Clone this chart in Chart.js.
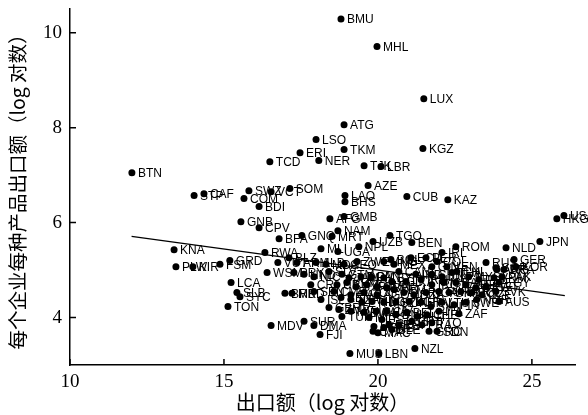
<!DOCTYPE html>
<html>
<head>
<meta charset="utf-8">
<script src="https://cdn.jsdelivr.net/npm/chart.js@4.4.1/dist/chart.umd.min.js"></script>
<style>
html, body { margin: 0; padding: 0; background: #fff; }
#wrap { width: 588px; height: 415px; }
</style>
</head>
<body>
<div id="wrap"><canvas id="grafico"></canvas></div>
<script>
// paises fuera del nucleo (etiquetas legibles)
let paisesA = ['BMU','MHL','LUX','ATG','LSO','TKM','KGZ','ERI','NER','TCD',
  'TJK','LBR','BTN','AZE','SOM','SWZ','VCT','STP','CAF','COM',
  'BDI','GNB','CPV','BFA','KNA','PLW','KIR','FSM','GRD','RWA',
  'VUT','WSM','LCA','SLB','SYC','TON','MDV','GNQ','MRT','NAM',
  'AFG','GMB','LAO','BHS','CUB','KAZ','TGO','UZB','NPL','BEN',
  'ROM','IRL','NLD','JPN','USA','HKG','MLI','UGA','RUS','GER',
  'KOR','SGP','AUS','ZAF','GRC','NZL','LBN','MUS','FJI','DMA',
  'SUR','CYP','GBR','BRB','MKD','ISL','BLZ','ZWE','YEM','LBY'];
let exportA = [18.80,19.97,21.49,18.90,17.99,18.90,21.46,17.47,18.08,16.49,
  19.55,20.10,12.01,19.68,17.14,15.81,16.53,14.03,14.35,15.65,
  16.14,15.55,16.14,16.79,13.38,13.44,13.99,14.87,15.19,16.33,
  16.75,16.40,15.23,15.42,15.52,15.13,16.53,17.53,18.51,18.70,
  18.44,18.90,18.93,18.93,20.94,22.27,20.39,19.84,19.38,21.10,
  22.53,22.08,24.16,25.26,26.04,25.81,18.15,18.70,23.51,24.42,
  24.48,23.83,23.93,22.63,21.66,21.20,20.03,19.09,18.12,17.92,
  17.60,19.84,18.41,16.98,17.21,18.15,17.11,19.32,20.52,20.19];
let valorA = [10.29,9.71,8.61,8.06,7.75,7.54,7.56,7.47,7.31,7.28,
  7.20,7.18,7.05,6.78,6.72,6.67,6.65,6.57,6.61,6.51,
  6.34,6.02,5.89,5.66,5.43,5.07,5.07,5.12,5.20,5.37,
  5.16,4.95,4.74,4.53,4.44,4.23,3.83,5.73,5.71,5.83,
  6.08,6.13,6.57,6.44,6.55,6.48,5.73,5.60,5.49,5.58,
  5.49,5.37,5.47,5.60,6.15,6.08,5.45,5.39,5.16,5.22,
  5.07,5.05,4.34,4.08,3.71,3.35,3.24,3.24,3.64,3.83,
  3.92,3.71,4.21,4.51,4.51,4.38,5.26,5.18,4.59,4.84];

// nucleo denso (etiquetas superpuestas)
let paisesB = ['ARM','ALB','MDA','GEO','MNG','BOL','PRY','HND','NIC','SLV',
  'GTM','JAM','DOM','PAN','CRI','URY','KHM','SYR','JOR','OMN',
  'BHR','SEN','CMR','GAB','COG','AGO','KEN','TZA','ETH','MDG',
  'MOZ','ZMB','MWI','BWA','GHA','CIV','TUN','MLT','EST','LVA',
  'SRB','BRN','MAC',
  'ECU','PER','COL','VEN','CHL','ARG','BRA','MEX','CAN','IND',
  'CHN','IDN','THA','MYS','PHL','VNM','PAK','BGD','LKA','IRN',
  'IRQ','ISR','SAU','ARE','QAT','KWT','EGY','MAR','DZA','NGA',
  'TUR','UKR','BLR','POL','CZE','SVK','HUN','BGR','HRV','SVN',
  'LTU','FIN','SWE','NOR','DNK','BEL','AUT','CHE','ITA','ESP',
  'PRT','FRA','TTO','SDN','SLE','GIN'];
let exportB = [17.37,17.99,18.31,18.90,20.19,20.42,17.27,17.60,17.92,18.41,
  18.83,19.06,19.45,19.77,17.82,18.67,18.99,19.29,19.64,19.97,
  20.29,17.92,18.57,19.12,19.55,19.97,18.80,19.12,19.48,19.81,
  20.19,18.73,19.12,19.55,19.94,20.29,18.83,19.71,20.13,19.87,
  20.19,20.36,20.00,
  21.07,21.56,21.92,22.24,22.56,23.86,24.09,20.52,20.68,21.23,
  21.75,22.08,22.40,22.95,23.28,23.77,24.03,20.45,20.91,21.40,
  21.75,22.14,22.53,22.86,23.18,23.51,23.93,20.84,21.17,21.56,
  21.98,22.31,22.69,23.05,23.38,23.83,20.58,21.01,21.40,21.72,
  22.08,22.47,22.86,23.21,20.58,20.94,21.27,21.59,21.98,20.68,
  21.10,21.43,21.75,21.92,20.45,21.75];
let valorB = [5.16,5.16,5.12,5.12,5.18,5.22,4.95,4.91,4.86,4.97,
  4.91,4.84,4.86,4.86,4.69,4.69,4.74,4.65,4.69,4.65,
  4.63,4.55,4.55,4.48,4.53,4.48,4.42,4.38,4.32,4.34,
  4.32,4.17,4.13,4.11,4.13,4.13,4.02,4.00,3.96,3.81,
  3.79,3.85,3.68,
  5.26,5.26,5.18,5.07,4.97,5.01,5.01,5.12,4.97,4.91,
  4.91,4.86,4.95,4.86,4.80,4.84,4.86,4.76,4.76,4.80,
  4.69,4.74,4.74,4.69,4.63,4.65,4.74,4.53,4.48,4.53,
  4.55,4.53,4.55,4.53,4.48,4.55,4.32,4.34,4.32,4.23,
  4.32,4.27,4.32,4.38,4.06,4.11,4.02,4.06,4.13,3.85,
  3.92,3.85,3.89,3.71,3.75,5.07];

// recta de ajuste
let tendX = [12.0, 26.07];
let tendY = [5.71, 4.46];

let xTicks = [10, 15, 20, 25];
let yTicks = [4, 6, 8, 10];

function armarPuntos(codigos, xs, ys) {
    let n = Math.min(codigos.length, xs.length, ys.length);
    let res = [];
    for (let i = 0; i < n; i++) {
        res.push({ x: xs[i], y: ys[i], code: codigos[i] });
    }
    return res;
}

let puntos = armarPuntos(paisesA, exportA, valorA).concat(armarPuntos(paisesB, exportB, valorB));
let linea = tendX.map((v, i) => ({ x: v, y: tendY[i] }));

const etiquetas = {
    id: 'etiquetas',
    afterDatasetsDraw(chart) {
        const ctx = chart.ctx;
        const meta = chart.getDatasetMeta(0);
        const datos = chart.data.datasets[0].data;
        ctx.save();
        ctx.font = '12px "Liberation Sans", Arial, sans-serif';
        ctx.fillStyle = '#000';
        ctx.textBaseline = 'middle';
        meta.data.forEach(function(pt, i) {
            ctx.fillText(datos[i].code, pt.x + 6, pt.y + 1);
        });
        // marcas hacia adentro
        const sx = chart.scales.x, sy = chart.scales.y;
        ctx.strokeStyle = '#000';
        ctx.lineWidth = 1.5;
        ctx.beginPath();
        xTicks.forEach(function(v) {
            let px = sx.getPixelForValue(v);
            ctx.moveTo(px, sy.bottom);
            ctx.lineTo(px, sy.bottom - 6);
        });
        yTicks.forEach(function(v) {
            let py = sy.getPixelForValue(v);
            ctx.moveTo(sx.left, py);
            ctx.lineTo(sx.left + 6, py);
        });
        ctx.stroke();
        ctx.restore();
    }
};

const fuenteSerif = '"Liberation Serif", "DejaVu Serif", serif';
const fuenteCJK = '"Noto Sans CJK SC", sans-serif';

new Chart(document.getElementById('grafico').getContext('2d'), {
    type: 'scatter',
    data: {
        datasets: [{
            data: puntos,
            backgroundColor: '#000',
            borderColor: '#000',
            pointRadius: 3.5,
            pointHoverRadius: 3.5,
            borderWidth: 0
        }, {
            type: 'line',
            data: linea,
            borderColor: '#000',
            borderWidth: 1.3,
            pointRadius: 0,
            fill: false
        }]
    },
    options: {
        responsive: true,
        maintainAspectRatio: false,
        animation: false,
        events: [],
        layout: { padding: { top: 9, right: 13, left: 0, bottom: 0 } },
        plugins: { legend: { display: false }, tooltip: { enabled: false } },
        scales: {
            x: {
                type: 'linear',
                min: 10,
                max: 26.4,
                grid: { display: false, drawTicks: false },
                border: { display: true, color: '#000', width: 1.5 },
                afterBuildTicks: function(s) { s.ticks = xTicks.map(v => ({ value: v })); },
                afterFit: function(s) { s.height = 50; s.paddingLeft = 0; s.paddingRight = 0; },
                ticks: { color: '#000', padding: 6, font: { family: fuenteSerif, size: 19 } },
                title: {
                    display: true,
                    text: '出口额（log 对数）',
                    color: '#000',
                    padding: { top: 0, bottom: 1 },
                    font: { family: fuenteCJK, size: 20 }
                }
            },
            y: {
                type: 'linear',
                min: 3,
                max: 10.5,
                grid: { display: false, drawTicks: false },
                border: { display: true, color: '#000', width: 1.5 },
                afterBuildTicks: function(s) { s.ticks = yTicks.map(v => ({ value: v })); },
                afterFit: function(s) { s.width = 70; s.paddingTop = 0; s.paddingBottom = 0; },
                ticks: { color: '#000', padding: 8, font: { family: fuenteSerif, size: 19 } },
                title: {
                    display: true,
                    text: '每个企业每种产品出口额（log 对数）',
                    color: '#000',
                    padding: { top: 6, bottom: 0 },
                    font: { family: fuenteCJK, size: 19.5 }
                }
            }
        }
    },
    plugins: [etiquetas]
});
</script>
</body>
</html>
